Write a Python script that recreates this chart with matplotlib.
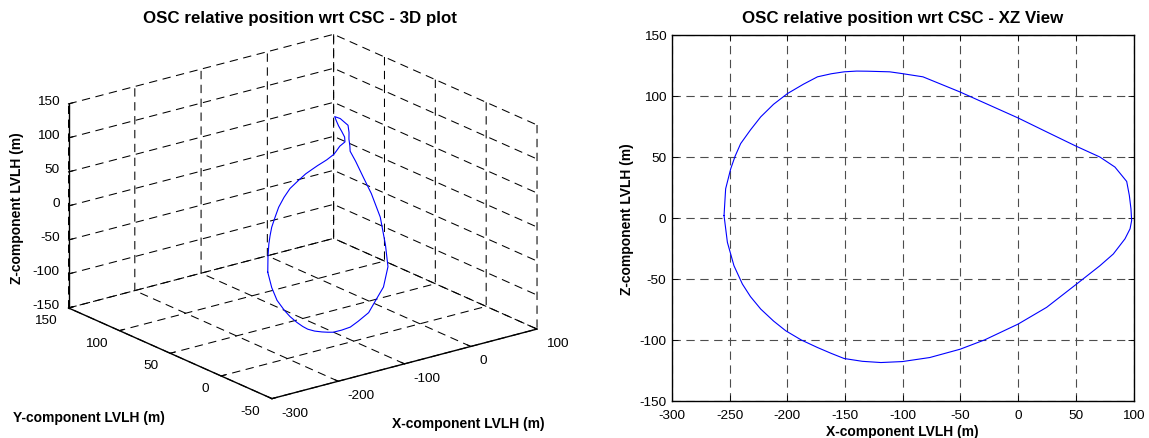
import numpy as np
import matplotlib
matplotlib.use("Agg")
import matplotlib.pyplot as plt
from mpl_toolkits.mplot3d import proj3d

plt.rcParams['font.family'] = ['Liberation Sans', 'DejaVu Sans']
plt.rcParams['lines.scale_dashes'] = False
plt.rcParams['axes.unicode_minus'] = False

# trajectory (m, LVLH)
x_pos = [-254.9, -253.5, -249.1, -245.3, -240.5, -232.0, -223.1, -212.0, -199.9, -186.0,
         -173.9, -162.0, -150.8, -140.0, -130.5, -111.4, -101.6, -82.5, -50.6, -24.6,
         0.0, 24.7, 49.8, 70.9, 83.9, 89.8, 94.1, 96.4, 97.8, 98.4,
         97.0, 92.6, 82.5, 70.9, 50.7, 24.7, 0.0, -28.9, -50.3, -76.6,
         -100.3, -118.9, -135.0, -150.8, -162.0, -173.9, -188.0, -201.4, -212.0, -223.1,
         -232.0, -239.0, -246.3, -252.0, -254.9]
y_pos = [-16.5, -15.8, -13.8, -12.5, -11.0, -8.8, -6.5, -4.5, -2.6, -1.8,
         -1.0, 0.5, 2.3, 4.3, 6.5, 12.0, 16.3, 25.0, 40.7, 58.0,
         77.0, 96.0, 114.5, 130.0, 133.0, 132.5, 132.0, 132.5, 133.5, 133.0,
         131.8, 123.5, 109.0, 94.0, 72.0, 50.0, 31.4, 17.0, 10.0, 0.5,
         -4.6, -9.0, -11.0, -13.0, -15.0, -17.0, -19.0, -21.0, -23.0, -24.5,
         -23.5, -22.5, -20.0, -18.5, -16.5]
z_pos = [1.9, 23.8, 40.2, 50.5, 60.8, 72.0, 82.7, 93.0, 101.8, 109.5,
         115.5, 118.0, 119.6, 120.2, 120.1, 119.6, 118.3, 115.5, 103.2, 92.2,
         81.8, 70.4, 58.9, 49.8, 41.6, 34.8, 29.8, 18.3, 7.4, -2.2,
         -9.0, -17.2, -29.6, -39.2, -54.2, -73.3, -87.0, -99.9, -107.6, -114.4,
         -117.7, -118.5, -117.5, -115.2, -111.0, -106.2, -100.0, -92.5, -84.5, -74.7,
         -64.5, -54.2, -39.2, -20.0, 1.9]

x_ticks = [-300, -200, -100, 0, 100]
y_ticks = [-50, 0, 50, 100, 150]
z_ticks = [-150, -100, -50, 0, 50, 100, 150]
xz_xticks = [-300, -250, -200, -150, -100, -50, 0, 50, 100]
xz_zticks = [-150, -100, -50, 0, 50, 100, 150]

title_3d = "OSC relative position wrt CSC - 3D plot"
title_xz = "OSC relative position wrt CSC - XZ View"
lab_x = "X-component LVLH (m)"
lab_y = "Y-component LVLH (m)"
lab_z = "Z-component LVLH (m)"

W, H = 1149, 439
fig = plt.figure(figsize=(W / 100, H / 100), dpi=100)

TICK_FS = 9.7
LAB_FS = 10
TITLE_FS = 12.2
blue = (0, 0, 1)

# ---------------- 3D plot ----------------
ax3 = fig.add_axes([9.6 / W, -3.9 / H, 0.5, 1.0], projection='3d')
ax3.plot(x_pos, y_pos, z_pos, color=blue, lw=0.8)
ax3.set_proj_type('ortho')
ax3.view_init(elev=20, azim=-127.5)
ax3.set_xlim(-300, 100)
ax3.set_ylim(-50, 150)
ax3.set_zlim(-150, 150)
ax3.set_box_aspect((1, 1, 0.65), zoom=1.15)
ax3.set_xticks(x_ticks)
ax3.set_yticks(y_ticks)
ax3.set_zticks(z_ticks)
for axis in (ax3.xaxis, ax3.yaxis, ax3.zaxis):
    axis.set_tick_params(labelbottom=False, labeltop=False)
    axis.pane.set_facecolor((1, 1, 1, 0))
    axis.pane.set_edgecolor((1, 1, 1, 0))
    axis._axinfo['grid'].update(color='k', linestyle=(0, (6, 4)), linewidth=0.75)
    axis.line.set_color('k')
    axis.line.set_linewidth(1.0)
    axis._axinfo['tick']['inward_factor'] = 0.0
    axis._axinfo['tick']['outward_factor'] = 0.2
ax3.patch.set_alpha(0)

# tick labels of the 3D box, placed next to the projected tick positions
fig.canvas.draw()


def put_labels(xs, ys, zs, labels, dx, dy, ha):
    px, py, _ = proj3d.proj_transform(np.asarray(xs, float), np.asarray(ys, float),
                                      np.asarray(zs, float), ax3.M)
    disp = ax3.transData.transform(np.column_stack([px, py]))
    for (u, v), s in zip(disp, labels):
        fig.text((u + dx) / W, (v + dy) / H, s, ha=ha, va='center',
                 fontsize=TICK_FS)


put_labels([-300] * len(z_ticks), [150] * len(z_ticks), z_ticks,
           [str(v) for v in z_ticks], -9, 3, 'right')
put_labels([-300] * len(y_ticks), y_ticks, [-150] * len(y_ticks),
           [str(v) for v in y_ticks], -12, -12, 'right')
put_labels(x_ticks, [-50] * len(x_ticks), [-150] * len(x_ticks),
           [str(v) for v in x_ticks], 9, -14, 'left')

fig.text(300 / W, 1 - 18 / H, title_3d, ha='center', va='center',
         fontsize=TITLE_FS, fontweight='bold')
fig.text(17 / W, 1 - 208 / H, lab_z, ha='center', va='center', rotation=90,
         fontsize=LAB_FS, fontweight='bold')
fig.text(89 / W, 1 - 418 / H, lab_y, ha='center', va='center',
         fontsize=LAB_FS, fontweight='bold')
fig.text(468 / W, 1 - 424 / H, lab_x, ha='center', va='center',
         fontsize=LAB_FS, fontweight='bold')

# ---------------- XZ view ----------------
L, R, T, B = 672, 1133.5, 35.7, 402
ax2 = fig.add_axes([L / W, 1 - B / H, (R - L) / W, (B - T) / H])
ax2.plot(x_pos, z_pos, color=blue, lw=0.8)
ax2.set_xlim(-300, 100)
ax2.set_ylim(-150, 150)
ax2.set_xticks(xz_xticks)
ax2.set_yticks(xz_zticks)
ax2.grid(True, color='0.3', linestyle=(0, (6, 4)), linewidth=0.8)
ax2.tick_params(direction='in', length=4, width=0.6, top=True, right=True,
                labelsize=TICK_FS)
ax2.tick_params(axis='x', pad=5.5)
ax2.tick_params(axis='y', pad=4)
for s in ax2.spines.values():
    s.set_linewidth(1.0)
ax2.set_title(title_xz, fontsize=TITLE_FS, fontweight='bold', pad=9)
ax2.set_xlabel(lab_x, fontsize=LAB_FS, fontweight='bold', labelpad=2.5)
ax2.set_ylabel(lab_z, fontsize=LAB_FS, fontweight='bold', labelpad=4)

fig.savefig("out.png", dpi=100)
